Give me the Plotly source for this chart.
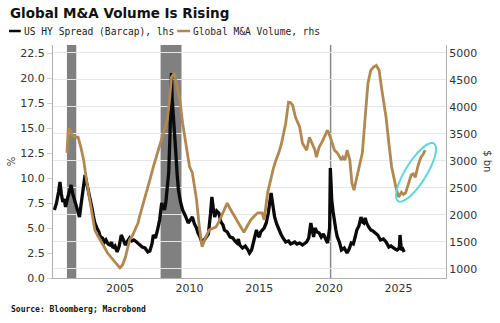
import numpy as np
import plotly.graph_objects as go

# ---------------- data ----------------
hy_years = [2000.3, 2000.45, 2000.6, 2000.7, 2000.8, 2000.9, 2001.0, 2001.1, 2001.25, 2001.4,
            2001.5, 2001.6, 2001.7, 2001.8, 2001.95, 2002.1, 2002.2, 2002.35, 2002.5, 2002.6,
            2002.75, 2002.9, 2003.0, 2003.1, 2003.2, 2003.35, 2003.5, 2003.6, 2003.75, 2003.9,
            2004.0, 2004.15, 2004.3, 2004.4, 2004.5, 2004.65, 2004.8, 2004.95, 2005.1, 2005.25,
            2005.4, 2005.55, 2005.7, 2005.85, 2006.0, 2006.2, 2006.35, 2006.5, 2006.6, 2006.8,
            2007.0, 2007.15, 2007.3, 2007.4, 2007.55, 2007.7, 2007.85, 2008.0, 2008.1, 2008.2,
            2008.3, 2008.4, 2008.5, 2008.6, 2008.7, 2008.75, 2008.85, 2008.95, 2009.0, 2009.1,
            2009.2, 2009.35, 2009.5, 2009.7, 2009.9, 2010.05, 2010.2, 2010.35, 2010.5, 2010.6,
            2010.75, 2010.9, 2011.05, 2011.2, 2011.35, 2011.5, 2011.6, 2011.7, 2011.8, 2011.95,
            2012.1, 2012.25, 2012.4, 2012.5, 2012.7, 2012.9, 2013.1, 2013.25, 2013.4, 2013.5,
            2013.6, 2013.8, 2014.0, 2014.15, 2014.3, 2014.45, 2014.6, 2014.8, 2014.9, 2015.0,
            2015.1, 2015.2, 2015.35, 2015.5, 2015.65, 2015.85, 2016.0, 2016.1, 2016.25, 2016.4,
            2016.55, 2016.7, 2016.9, 2017.1, 2017.25, 2017.4, 2017.55, 2017.7, 2017.9, 2018.1,
            2018.25, 2018.4, 2018.55, 2018.7, 2018.8, 2018.9, 2019.0, 2019.15, 2019.3, 2019.45,
            2019.6, 2019.75, 2019.9, 2020.05, 2020.1, 2020.15, 2020.2, 2020.3, 2020.4, 2020.5,
            2020.6, 2020.75, 2020.9, 2021.1, 2021.3, 2021.45, 2021.6, 2021.75, 2021.9, 2022.0,
            2022.15, 2022.3, 2022.4, 2022.5, 2022.6, 2022.7, 2022.85, 2023.0, 2023.15, 2023.35,
            2023.5, 2023.7, 2023.9, 2024.1, 2024.2, 2024.3, 2024.45, 2024.6, 2024.75, 2024.9,
            2025.05, 2025.1, 2025.2, 2025.3, 2025.4]
hy_spread = [6.8, 7.5, 8.6, 9.6, 8.4, 7.6, 7.9, 7.1, 8.0, 8.8,
             9.3, 8.5, 8.0, 7.6, 7.0, 6.1, 7.2, 8.6, 10.3, 9.6,
             8.7, 7.8, 7.0, 6.2, 5.5, 5.0, 4.6, 4.1, 4.0, 3.6,
             3.8, 3.4, 3.3, 3.6, 3.0, 3.2, 2.6, 3.2, 4.3, 3.8,
             3.3, 3.7, 4.0, 3.7, 3.8, 3.6, 3.4, 3.3, 3.1, 3.0,
             2.6, 2.7, 3.4, 4.3, 4.0, 4.8, 5.8, 7.5, 7.0, 6.8,
             7.6, 8.8, 10.5, 14.5, 20.5, 18.0, 16.1, 14.8, 12.8, 10.5,
             8.8, 7.6, 6.8, 6.2, 5.5, 5.8, 6.1, 5.4, 5.0, 4.5,
             4.1, 3.5, 3.8, 4.1, 4.4, 6.4, 8.1, 7.0, 6.1, 6.7,
             6.5, 5.6, 5.3, 4.8, 4.6, 4.1, 4.0, 3.7, 3.5, 3.9,
             3.3, 3.0, 3.2, 2.9, 2.5, 2.8, 3.6, 4.8, 4.3, 4.1,
             4.6, 4.8, 5.0, 5.5, 6.5, 8.5, 7.0, 6.1, 5.4, 4.8,
             4.4, 4.0, 3.6, 3.7, 3.4, 3.5, 3.6, 3.4, 3.5, 3.3,
             3.5, 3.6, 4.0, 5.5, 4.8, 4.1, 5.0, 4.6, 4.5, 4.1,
             4.4, 4.0, 3.5, 5.0, 11.0, 9.5, 7.8, 6.6, 5.5, 4.8,
             4.1, 3.6, 2.8, 3.0, 2.5, 2.9, 3.5, 3.4, 4.2, 4.8,
             5.2, 6.1, 5.6, 5.5, 6.0, 5.5, 5.1, 4.8, 4.7, 4.5,
             4.3, 3.8, 3.9, 3.6, 3.4, 3.1, 3.2, 3.0, 2.9, 2.8,
             3.0, 4.3, 2.8, 2.9, 2.6]

ma_years = [2001.2, 2001.3, 2001.45, 2001.6, 2001.8, 2002.0, 2002.2, 2002.4, 2002.6, 2002.8,
            2003.0, 2003.2, 2003.4, 2003.6, 2003.85, 2004.1, 2004.3, 2004.5, 2004.75, 2005.0,
            2005.2, 2005.4, 2005.55, 2005.7, 2005.9, 2006.1, 2006.3, 2006.4, 2006.65, 2006.9,
            2007.15, 2007.4, 2007.65, 2007.9, 2008.15, 2008.4, 2008.55, 2008.7, 2008.9, 2009.1,
            2009.3, 2009.5, 2009.65, 2009.8, 2010.0, 2010.2, 2010.35, 2010.5, 2010.7, 2010.9,
            2011.1, 2011.4, 2011.65, 2011.9, 2012.15, 2012.4, 2012.55, 2012.7, 2012.9, 2013.1,
            2013.35, 2013.6, 2013.9, 2014.15, 2014.4, 2014.65, 2014.9, 2015.2, 2015.35, 2015.6,
            2015.85, 2016.0, 2016.2, 2016.4, 2016.6, 2016.75, 2016.9, 2017.0, 2017.1, 2017.25,
            2017.4, 2017.6, 2017.75, 2017.9, 2018.1, 2018.25, 2018.4, 2018.6, 2018.8, 2019.0,
            2019.1, 2019.3, 2019.5, 2019.65, 2019.9, 2020.1, 2020.25, 2020.4, 2020.6, 2020.75,
            2020.9, 2021.0, 2021.15, 2021.3, 2021.5, 2021.65, 2021.8, 2022.0, 2022.2, 2022.4,
            2022.6, 2022.8, 2023.0, 2023.2, 2023.4, 2023.6, 2023.8, 2024.1, 2024.3, 2024.5,
            2024.8, 2025.0, 2025.2, 2025.35, 2025.5, 2025.7, 2025.9, 2026.05, 2026.2, 2026.4,
            2026.6, 2026.75, 2026.9]
ma_volume = [3150, 3610, 3550, 3470, 3440, 3440, 3250, 3020, 2650, 2330,
             2040, 1720, 1620, 1540, 1420, 1300, 1240, 1170, 1110, 1020,
             1080, 1220, 1380, 1540, 1620, 1720, 1850, 1960, 2180, 2410,
             2650, 2890, 3100, 3330, 3550, 3760, 4100, 4550, 4630, 4400,
             4130, 3700, 3450, 3200, 2890, 2780, 2550, 2280, 1780, 1410,
             1550, 1720, 1750, 1780, 1900, 2040, 2150, 2220, 2120, 2040,
             1920, 1810, 1680, 1800, 1910, 1980, 2040, 2040, 1910, 2410,
             2700, 2850, 3020, 3150, 3330, 3500, 3700, 3900, 4090, 4080,
             4030, 3810, 3700, 3630, 3330, 3250, 3200, 3440, 3330, 3200,
             3070, 3260, 3350, 3440, 3570, 3440, 3320, 3200, 3150, 3080,
             3020, 3070, 3020, 3200, 3020, 2590, 2460, 2700, 2950, 3150,
             3810, 4440, 4680, 4740, 4770, 4680, 4310, 3810, 3330, 2890,
             2520, 2330, 2420, 2380, 2410, 2590, 2740, 2760, 2700, 2920,
             3070, 3120, 3200]

recession_start = [2001.2, 2007.92]
recession_end = [2001.87, 2009.42]
covid_line = 2020.12

x_ticks = [2005, 2010, 2015, 2020, 2025]
left_ticks = [0, 2.5, 5, 7.5, 10, 12.5, 15, 17.5, 20, 22.5]
right_ticks = [1000, 1500, 2000, 2500, 3000, 3500, 4000, 4500, 5000]

# ---------------- figure ----------------
BLACK = "#0a0a0a"
GOLD = "#b08850"
TXT = "#333333"

fig = go.Figure()
fig.add_trace(go.Scatter(x=ma_years, y=ma_volume, yaxis="y2", mode="lines",
                         line=dict(color=GOLD, width=2.8), name="Global M&A Volume, rhs",
                         showlegend=False))
fig.add_trace(go.Scatter(x=hy_years, y=hy_spread, mode="lines",
                         line=dict(color=BLACK, width=3.3), name="US HY Spread (Barcap), lhs",
                         showlegend=False))

shapes = []
for s, e in zip(recession_start, recession_end):
    shapes.append(dict(type="rect", xref="x", yref="paper", x0=s, x1=e, y0=0, y1=1,
                       fillcolor="#808080", line=dict(width=0), layer="below"))
shapes.append(dict(type="line", xref="x", yref="paper", x0=covid_line, x1=covid_line,
                   y0=0, y1=1, line=dict(color="#8a8a8a", width=1.5), layer="below"))

# cyan ellipse highlight (annotation)
cx, cy = 2026.25, 2790
a_px, b_px, ang = 34, 10.5, np.deg2rad(58)
px_per_year, val_per_px = 14.0, 18.5
t = np.linspace(0, 2 * np.pi, 60)
ux = a_px * np.cos(t) * np.cos(ang) - b_px * np.sin(t) * np.sin(ang)
uy = a_px * np.cos(t) * np.sin(ang) + b_px * np.sin(t) * np.cos(ang)
ex = cx + ux / px_per_year
ey = cy + uy * val_per_px
path = "M " + " L ".join(f"{x:.4f},{y:.2f}" for x, y in zip(ex, ey)) + " Z"
shapes.append(dict(type="path", xref="x", yref="y2", path=path,
                   line=dict(color="#5cd6dc", width=2)))

# legend marks
LEG_Y = 1.06
shapes.append(dict(type="line", xref="paper", yref="paper", x0=-0.112, x1=-0.082,
                   y0=LEG_Y, y1=LEG_Y, line=dict(color=BLACK, width=2.5)))
shapes.append(dict(type="line", xref="paper", yref="paper", x0=0.316, x1=0.349,
                   y0=LEG_Y, y1=LEG_Y, line=dict(color=GOLD, width=2.5)))

fig.update_layout(
    width=500, height=323,
    margin=dict(l=53, r=54, t=45, b=45),
    paper_bgcolor="white", plot_bgcolor="white",
    font=dict(family="DejaVu Sans", size=11, color=TXT),
    showlegend=False,
    shapes=shapes,
    xaxis=dict(range=[2000.2, 2028.4], tickvals=x_ticks, showgrid=False,
               showline=True, linecolor="#b0b0b0", linewidth=1, ticks="",
               zeroline=False, tickfont=dict(size=11, color=TXT)),
    yaxis=dict(range=[0, 23.3], tickvals=left_ticks, tickformat=".1f",
               showgrid=False, zeroline=False, showline=True, linecolor="#b0b0b0",
               ticks="outside", ticklen=5, tickcolor="#d0d0d0",
               tickfont=dict(size=11, color=TXT)),
    yaxis2=dict(range=[833, 5148], tickvals=right_ticks, overlaying="y", side="right",
                showgrid=True, gridcolor="#e6e6e6", gridwidth=1, zeroline=False,
                showline=True, linecolor="#b0b0b0", ticks="",
                tickfont=dict(size=11, color=TXT)),
)

fig.add_annotation(text="<b>Global M&A Volume Is Rising</b>", xref="paper", yref="paper",
                   x=-0.115, y=1.137, xanchor="left", yanchor="middle", showarrow=False,
                   font=dict(family="DejaVu Sans", size=13.5, color="#111111"))
fig.add_annotation(text="US HY Spread (Barcap), lhs", xref="paper", yref="paper",
                   x=-0.078, y=LEG_Y, xanchor="left", yanchor="middle", showarrow=False,
                   font=dict(family="DejaVu Sans Mono", size=9.6, color="#222222"))
fig.add_annotation(text="Global M&A Volume, rhs", xref="paper", yref="paper",
                   x=0.352, y=LEG_Y, xanchor="left", yanchor="middle", showarrow=False,
                   font=dict(family="DejaVu Sans Mono", size=9.6, color="#222222"))
fig.add_annotation(text="<b>Source: Bloomberg; Macrobond</b>", xref="paper", yref="paper",
                   x=-0.112, y=-0.137, xanchor="left", yanchor="middle", showarrow=False,
                   font=dict(family="DejaVu Sans Mono", size=8, color="#111111"))
fig.add_annotation(text="%", xref="paper", yref="paper", x=-0.105, y=0.5,
                   xanchor="center", yanchor="middle", showarrow=False, textangle=-90,
                   font=dict(size=10, color=TXT))
fig.add_annotation(text="$ bn", xref="paper", yref="paper", x=1.105, y=0.5,
                   xanchor="center", yanchor="middle", showarrow=False, textangle=90,
                   font=dict(size=10, color=TXT))

fig.write_html("out.html")
